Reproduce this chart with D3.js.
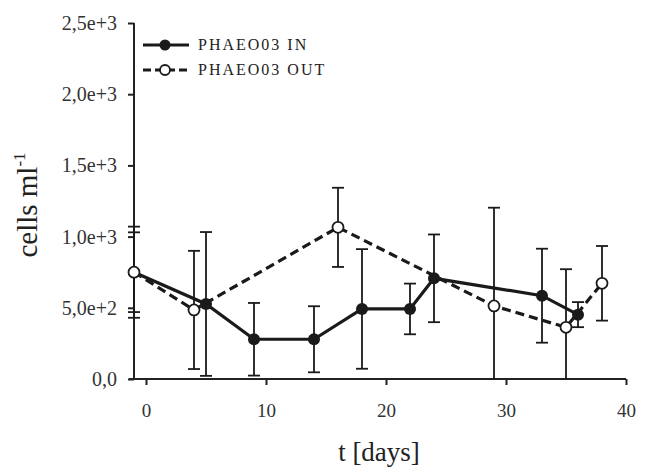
<!DOCTYPE html>
<html lang="en">
<head>
    <meta charset="UTF-8">
    <title>PHAEO03 cells</title>
    <script src="https://d3js.org/d3.v7.min.js"></script>
    <style>
        body { margin: 0; background: #fff; }
    </style>
</head>
<body>
<script>
    const width = 653;
    const height = 475;

    // data
    const daysIn = [-1, 5, 9, 14, 18, 22, 24, 33, 36];
    const valuesIn = [750, 527, 279, 279, 492, 492, 707, 585, 452];
    const errIn = [320, 505, 255, 232, 420, 178, 308, 330, 88];

    const daysOut = [-1, 4, 16, 29, 35, 38];
    const valuesOut = [750, 485, 1065, 513, 363, 672];
    const errOut = [280, 415, 278, 690, 408, 262];

    const yTicks = [0, 500, 1000, 1500, 2000, 2500];
    const xTicks = [0, 10, 20, 30, 40];

    const seriesIn = daysIn.map((d, i) => ({ x: d, y: valuesIn[i], e: errIn[i] }));
    const seriesOut = daysOut.map((d, i) => ({ x: d, y: valuesOut[i], e: errOut[i] }));

    const svg = d3.select("body").append("svg")
        .attr("width", width)
        .attr("height", height);

    const x = d3.scaleLinear().domain([-1, 40]).range([134, 626]);
    const y = d3.scaleLinear().domain([0, 2500]).range([379, 23]);

    const fmt = function (v) {
        if (v === 0) return "0,0";
        return d3.format(".1e")(v).replace(".", ",");
    };

    // axes
    const yAxis = svg.append("g")
        .attr("transform", "translate(134,0)")
        .call(d3.axisLeft(y).tickValues(yTicks).tickSize(6).tickPadding(11).tickFormat(fmt));
    yAxis.select(".domain").attr("d", "M0," + y(2500) + "V" + y(0)).attr("stroke", "#222").attr("stroke-width", 2);
    yAxis.selectAll(".tick line").attr("stroke", "#222").attr("stroke-width", 2);
    yAxis.selectAll(".tick text").style("font-size", "20px").attr("fill", "#333");

    const xAxis = svg.append("g")
        .attr("transform", "translate(0,379)")
        .call(d3.axisBottom(x).tickValues(xTicks).tickSize(6));
    xAxis.select(".domain").attr("d", "M129,0H" + x(40)).attr("stroke", "#222").attr("stroke-width", 2);
    xAxis.selectAll(".tick line").attr("stroke", "#222").attr("stroke-width", 2);
    xAxis.selectAll(".tick text").style("font-size", "19px").attr("fill", "#333")
        .attr("y", 38).attr("dy", null);

    // axis titles
    const yTitle = svg.append("text")
        .attr("transform", "translate(37,205) rotate(-90)")
        .attr("text-anchor", "middle")
        .attr("fill", "#222")
        .style("font-size", "29px");
    yTitle.append("tspan").text("cells ml");
    yTitle.append("tspan").attr("dy", -12).style("font-size", "17px").text("-1");

    svg.append("text")
        .attr("x", 379)
        .attr("y", 461)
        .attr("text-anchor", "middle")
        .attr("fill", "#222")
        .style("font-size", "27px")
        .text("t [days]");

    // lines
    const line = d3.line().x(d => x(d.x)).y(d => y(d.y));

    svg.append("path")
        .datum(seriesOut)
        .attr("d", line)
        .attr("fill", "none")
        .attr("stroke", "#1a1a1a")
        .attr("stroke-width", 3.2)
        .attr("stroke-dasharray", "9,5");

    svg.append("path")
        .datum(seriesIn)
        .attr("d", line)
        .attr("fill", "none")
        .attr("stroke", "#1a1a1a")
        .attr("stroke-width", 3.2);

    // error bars
    function errorBars(data) {
        const g = svg.append("g").attr("stroke", "#1a1a1a").attr("stroke-width", 1.8);
        data.forEach(function (d) {
            const top = y(d.y + d.e);
            const bot = y(Math.max(0, d.y - d.e));
            g.append("line").attr("x1", x(d.x)).attr("x2", x(d.x)).attr("y1", top).attr("y2", bot);
            g.append("line").attr("x1", x(d.x) - 6).attr("x2", x(d.x) + 6).attr("y1", top).attr("y2", top);
            if (d.y - d.e > 0) {
                g.append("line").attr("x1", x(d.x) - 6).attr("x2", x(d.x) + 6).attr("y1", bot).attr("y2", bot);
            }
        });
    }
    errorBars(seriesOut);
    errorBars(seriesIn);

    // markers
    svg.selectAll(".ptIn")
        .data(seriesIn)
        .enter().append("circle")
        .attr("class", "ptIn")
        .attr("cx", d => x(d.x))
        .attr("cy", d => y(d.y))
        .attr("r", 6)
        .attr("fill", "#1a1a1a");

    svg.selectAll(".ptOut")
        .data(seriesOut)
        .enter().append("circle")
        .attr("class", "ptOut")
        .attr("cx", d => x(d.x))
        .attr("cy", d => y(d.y))
        .attr("r", 5.5)
        .attr("fill", "#fff")
        .attr("stroke", "#1a1a1a")
        .attr("stroke-width", 1.8);

    // legend
    const legend = svg.append("g").attr("transform", "translate(143,45)");
    legend.append("line").attr("x1", 0).attr("x2", 46).attr("y1", 0).attr("y2", 0)
        .attr("stroke", "#1a1a1a").attr("stroke-width", 3.2);
    legend.append("circle").attr("cx", 22).attr("cy", 0).attr("r", 5.5).attr("fill", "#1a1a1a");
    legend.append("text").attr("x", 55).attr("y", 5).attr("fill", "#222").text("PHAEO03 IN");

    legend.append("line").attr("x1", 0).attr("x2", 46).attr("y1", 25).attr("y2", 25)
        .attr("stroke", "#1a1a1a").attr("stroke-width", 3.2).attr("stroke-dasharray", "8,4");
    legend.append("circle").attr("cx", 22).attr("cy", 25).attr("r", 5)
        .attr("fill", "#fff").attr("stroke", "#1a1a1a").attr("stroke-width", 1.8);
    legend.append("text").attr("x", 55).attr("y", 30).attr("fill", "#222").text("PHAEO03 OUT");
    legend.selectAll("text").style("font-size", "16px").style("letter-spacing", "2px");

    // serif font everywhere
    svg.selectAll("text").style("font-family", "'Liberation Serif', serif");
</script>
</body>
</html>
